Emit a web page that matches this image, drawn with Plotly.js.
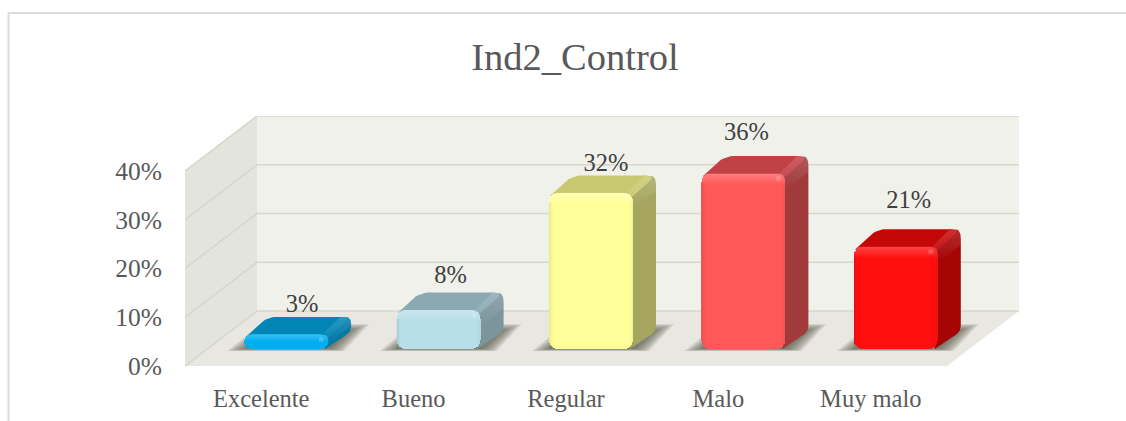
<!DOCTYPE html>
<html><head><meta charset="utf-8">
<script src="https://cdn.plot.ly/plotly-3.0.1.min.js"></script>
<style>html,body{margin:0;padding:0;background:#fff}#c{width:1126px;height:421px}</style>
</head><body><div id="c"></div>
<script>
const titleText = 'Ind2_Control';
const categories = ['Excelente','Bueno','Regular','Malo','Muy malo'];
const values = [3, 8, 32, 36, 21];
const yTicks = [0, 10, 20, 30, 40];
const frontColors = ['#00aeef','#b7dfe8','#ffff99','#ff5858','#ff0f0f'];
const topColors   = ['#0085b5','#8ba9b3','#c9c971','#c24145','#c40808'];
const sideColors  = ['#0079a6','#7c959c','#a6a660','#a13a3a','#a60505'];
const labelDx   = [41, 37, 40, 28, 38];
const labelLift = [29, 33, 28, 40, 45];

const W = 1126, H = 421;
const L = 185, R = 1019, T = 116, B = 366, CAT = 152.4, PY = 4.875;
const WALL_DX = 72, WALL_DY = 55;
const BAR_W = 84, BAR_OFF = -17, BAR_BASE_PX = 17, BAR_DX = 23, BAR_DY = 17.5;
const xRange = [-0.5, -0.5 + (R - L) / CAT];
const yRange = [0, (B - T) / PY];
const px2x = p => -0.5 + (p - L) / CAT;
const py2y = p => (B - p) / PY;
const cx = i => L + CAT * (i + 0.5);
const yPx = v => B - BAR_BASE_PX - v * PY;

function rounded(pts) {
  const xs = [], ys = [], n = pts.length;
  pts.forEach((p, k) => {
    const a = pts[(k + n - 1) % n], c = pts[(k + 1) % n], r = p[2] || 0;
    if (!r) { xs.push(p[0]); ys.push(p[1]); return; }
    const la = Math.hypot(a[0]-p[0], a[1]-p[1]), lc = Math.hypot(c[0]-p[0], c[1]-p[1]);
    const ra = Math.min(r, la/2), rc = Math.min(r, lc/2);
    const s = [p[0]+(a[0]-p[0])*ra/la, p[1]+(a[1]-p[1])*ra/la];
    const e = [p[0]+(c[0]-p[0])*rc/lc, p[1]+(c[1]-p[1])*rc/lc];
    for (let t = 0; t <= 1.0001; t += 0.125) {
      const u = 1 - t;
      xs.push(u*u*s[0] + 2*u*t*p[0] + t*t*e[0]);
      ys.push(u*u*s[1] + 2*u*t*p[1] + t*t*e[1]);
    }
  });
  xs.push(xs[0]); ys.push(ys[0]);
  return {x: xs.map(px2x), y: ys.map(py2y)};
}
const poly = (pts, fill, ax) => Object.assign(rounded(pts), {
  type:'scatter', mode:'lines', line:{width:0}, fill:'toself', fillcolor:fill,
  hoverinfo:'skip', showlegend:false, xaxis:ax==2?'x2':'x', yaxis:ax==2?'y2':'y'});
const grad = (pts, kind, c0, c1, ax) => {
  const t = poly(pts, 'rgba(0,0,0,0)', ax === undefined ? 2 : ax);
  t.fillgradient = {type:kind, colorscale:[[0,c0],[1,c1]]};
  delete t.fillcolor;
  return t;
};

const shapes = [];
const dPath = a => 'M' + a.map(p => px2x(p[0]) + ',' + py2y(p[1])).join(' L') + ' Z';
const wall = (a, fill) => shapes.push({type:'path', path:dPath(a), fillcolor:fill, line:{width:0}, layer:'below'});
wall([[L,B],[L+WALL_DX,B-WALL_DY],[L+WALL_DX,T],[L,T+WALL_DY]], '#e4e4df');
wall([[L+WALL_DX,B-WALL_DY],[R,B-WALL_DY],[R,T],[L+WALL_DX,T]], '#f1f1eb');
wall([[L,B],[L+WALL_DX,B-WALL_DY],[R,B-WALL_DY],[R-WALL_DX,B]], '#e8e7e2');
yTicks.forEach(t => {
  const yf = B - t * PY, yb = yf - WALL_DY;
  const ln = (x0,y0,x1,y1) => shapes.push({type:'line', x0:px2x(x0), y0:py2y(y0), x1:px2x(x1), y1:py2y(y1),
    line:{color:'#d8d7cb', width:1.6}, layer:'below'});
  ln(L, yf, L+WALL_DX, yb);
  ln(L+WALL_DX, yb, R, yb);
});
// floor shadows, soft edge built from stacked layers
categories.forEach((c, i) => {
  const xl = cx(i) + BAR_OFF;
  [0,2,4,6,8,10,12,14].forEach(s => shapes.push({type:'path', layer:'below', line:{width:0}, fillcolor:'#4a4a40', opacity:0.13,
    path:dPath([[xl-17+s*1.2,351-s*0.15],[xl+100-s,351-s*0.15],[xl+125-s*1.3,324+s*0.45],[xl+16+s,324+s*0.45]])}));
});
// frame
const fx = p => (p - L) / (R - L), fy = p => (B - p) / (B - T);
shapes.push({type:'line', xref:'paper', yref:'paper', x0:fx(8), x1:fx(1126), y0:fy(13), y1:fy(13), line:{color:'#dcdcdc', width:2}});
shapes.push({type:'line', xref:'paper', yref:'paper', x0:fx(8.5), x1:fx(8.5), y0:fy(13), y1:fy(421), line:{color:'#dcdcdc', width:2}});

const under = [], over = [];
values.forEach((v, i) => {
  const xl = cx(i) + BAR_OFF, xr = xl + BAR_W, yb = yPx(0), yt = yPx(v);
  const dx = BAR_DX, dy = BAR_DY;
  under.push(poly([[xr-3,yb],[xr-3,yt],[xr+dx-12,yt-dy],[xr+dx,yt-dy,10],[xr+dx,yb-dy,6]], sideColors[i]));
  under.push(poly([[xl+1,yt+3],[xl+dx,yt-dy,10],[xr+dx,yt-dy,10],[xr,yt+3]], topColors[i]));
  const bev = Math.min(16, (yb-yt)*0.6);
  under.push(grad([[xr-8,yt+2],[xr+dx-11,yt-dy],[xr+dx,yt-dy,10],[xr+dx,yt-dy+bev],[xr,yt+bev]], 'vertical', 'rgba(255,255,255,0)', 'rgba(255,255,255,0.16)', 1));
});
const bars = {type:'bar', x:categories.map((c,i) => px2x(cx(i)+BAR_OFF+BAR_W/2)), y:values, base:values.map(() => BAR_BASE_PX/PY),
  width:BAR_W/CAT, marker:{color:frontColors, cornerradius:9, line:{width:0}}, hoverinfo:'skip', showlegend:false, xaxis:'x2', yaxis:'y2'};
values.forEach((v, i) => {
  const xl = cx(i) + BAR_OFF, xr = xl + BAR_W, yb = yPx(0), yt = yPx(v), h = yb - yt;
  const band = Math.min(12, h * 0.5);
  over.push(grad([[xl,yt,9],[xr,yt,9],[xr,yt+band],[xl,yt+band]], 'vertical', 'rgba(255,255,255,0)', 'rgba(255,255,255,0.22)'));
  if (h > 16) {
    over.push(grad([[xl,yt+9],[xl+4,yt+9],[xl+4,yb],[xl,yb]], 'horizontal', 'rgba(0,0,0,0.09)', 'rgba(0,0,0,0)'));
    over.push(grad([[xr-4,yt+9],[xr,yt+9],[xr,yb],[xr-4,yb]], 'horizontal', 'rgba(0,0,0,0)', 'rgba(0,0,0,0.05)'));
  }
});
const spot = {type:'scatter', mode:'markers', x:values.map((v,i) => px2x(cx(i)+BAR_OFF+BAR_W-7)), y:values.map(v => py2y(yPx(v)+5)),
  marker:{size:5, color:'rgba(255,255,255,0.2)', line:{width:0}}, hoverinfo:'skip', showlegend:false, xaxis:'x2', yaxis:'y2'};
const fam = '"Liberation Serif",serif';
const labels = {type:'scatter', mode:'text', x:values.map((v,i) => px2x(cx(i)+labelDx[i])), y:values.map((v,i) => py2y(yPx(v)-labelLift[i])),
  text:values.map(v => v + '%'), textposition:'middle center', textfont:{family:fam, size:24.5, color:'#404040'},
  cliponaxis:false, hoverinfo:'skip', showlegend:false, xaxis:'x2', yaxis:'y2'};

Plotly.newPlot('c', [...under, bars, ...over, spot, labels], {
  width:W, height:H, margin:{l:L, r:W-R, t:T, b:H-B, pad:0},
  paper_bgcolor:'#ffffff', plot_bgcolor:'rgba(0,0,0,0)', showlegend:false, hovermode:false,
  title:{text:titleText, x:575/W, y:1-57/H, xanchor:'center', yanchor:'middle', font:{family:fam, size:38.5, color:'#595959'}},
  xaxis:{range:xRange, type:'linear', tickmode:'array', tickvals:categories.map((c,i)=>i), ticktext:categories,
    showgrid:false, zeroline:false, showline:false, ticks:'outside', ticklen:11, tickcolor:'rgba(0,0,0,0)',
    tickfont:{family:fam, size:24.5, color:'#595959'}, fixedrange:true},
  yaxis:{range:yRange, tickmode:'array', tickvals:yTicks, ticktext:yTicks.map(t=>t+'%'),
    showgrid:false, zeroline:false, showline:false, ticks:'outside', ticklen:17, tickcolor:'rgba(0,0,0,0)',
    tickfont:{family:fam, size:25.5, color:'#595959'}, fixedrange:true},
  xaxis2:{range:xRange, overlaying:'x', visible:false, fixedrange:true},
  yaxis2:{range:yRange, overlaying:'y', visible:false, fixedrange:true},
  shapes:shapes, bargap:0
}, {displayModeBar:false, staticPlot:true});
</script></body></html>
